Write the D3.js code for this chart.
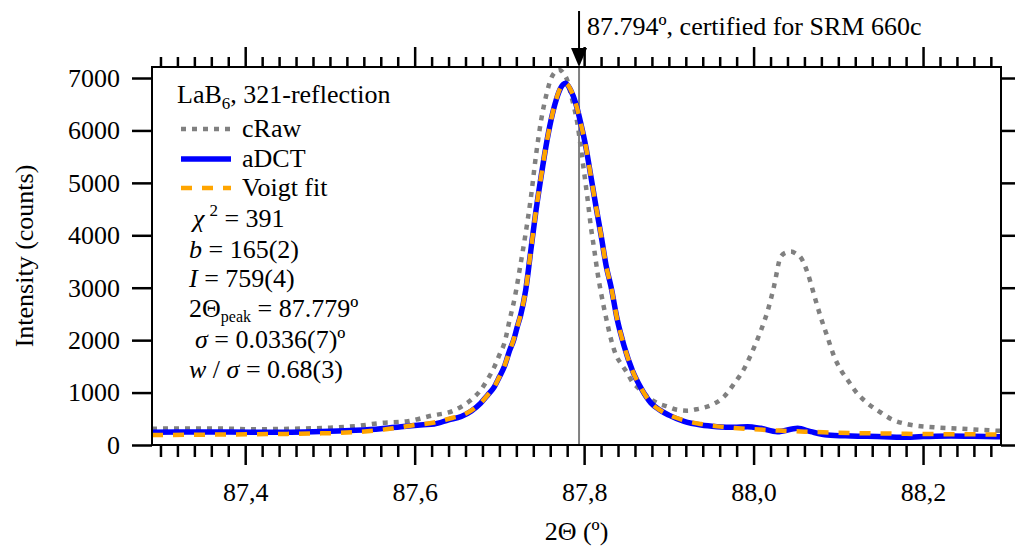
<!DOCTYPE html>
<html>
<head>
<meta charset="utf-8">
<script src="https://cdn.jsdelivr.net/npm/d3@7"></script>
<style>
  body { margin: 0; background: #fff; }
  svg { display: block; }
  svg text { font-family: 'Liberation Serif', 'DejaVu Serif', serif; }
</style>
</head>
<body>
<div id="chart"></div>
<script>
// ---------------------------------------------------------------------------
// DATA
// ---------------------------------------------------------------------------
const rawTheta = [87.29, 87.32, 87.35, 87.38, 87.41, 87.44, 87.47, 87.50, 87.53, 87.56, 87.59, 87.62,
  87.645, 87.655, 87.668, 87.678, 87.686, 87.694, 87.70, 87.706, 87.712, 87.718, 87.725, 87.731,
  87.737, 87.743, 87.749, 87.755, 87.761, 87.766, 87.771, 87.776, 87.780, 87.784, 87.788, 87.792,
  87.796, 87.800, 87.804, 87.808, 87.812, 87.816, 87.820, 87.826, 87.832, 87.838, 87.844, 87.851,
  87.857, 87.863, 87.875, 87.887, 87.897, 87.91, 87.922, 87.935, 87.95, 87.965, 87.977, 87.989,
  88.00, 88.009, 88.017, 88.024, 88.032, 88.038, 88.044, 88.050, 88.056, 88.064, 88.072, 88.079,
  88.087, 88.095, 88.103, 88.111, 88.122, 88.135, 88.15, 88.163, 88.185, 88.213, 88.244, 88.284, 88.292];
const rawCounts = [310, 315, 315, 312, 300, 305, 315, 330, 360, 420, 450, 560,
  650, 730, 880, 1050, 1250, 1490, 1720, 1950, 2380, 2800, 3450, 4040,
  4700, 5500, 6170, 6650, 6990, 7120, 7155, 7080, 6960, 6710, 6450, 6140,
  5680, 5200, 4700, 4160, 3720, 3270, 2900, 2420, 2000, 1700, 1540, 1370,
  1200, 1100, 920, 795, 740, 670, 654, 690, 760, 920, 1170, 1460,
  1840, 2200, 2580, 3020, 3590, 3670, 3690, 3650, 3570, 3270, 2830, 2450,
  2070, 1690, 1430, 1240, 990, 790, 620, 490, 385, 337, 311, 275, 270];

const dctTheta = [87.29, 87.32, 87.35, 87.38, 87.41, 87.44, 87.47, 87.50, 87.53, 87.56, 87.584, 87.61,
  87.623, 87.64, 87.655, 87.667, 87.678, 87.686, 87.694, 87.700, 87.706, 87.712, 87.717, 87.721,
  87.725, 87.731, 87.737, 87.743, 87.749, 87.755, 87.761, 87.767, 87.772, 87.778, 87.784, 87.790,
  87.796, 87.802, 87.808, 87.814, 87.820, 87.826, 87.832, 87.839, 87.847, 87.857, 87.867, 87.879,
  87.89, 87.90, 87.918, 87.938, 87.957, 87.977, 87.993, 88.0085, 88.028, 88.052, 88.0675, 88.087,
  88.115, 88.154, 88.174, 88.20, 88.233, 88.26, 88.292];
const dctCounts = [245, 248, 250, 248, 245, 245, 250, 262, 280, 310, 350, 385,
  400, 480, 545, 650, 800, 950, 1110, 1300, 1500, 1800, 2010, 2250,
  2470, 2950, 3700, 4450, 5100, 5700, 6200, 6580, 6800, 6900, 6770, 6520,
  6140, 5690, 5120, 4550, 4000, 3420, 3000, 2400, 1900, 1420, 1090, 800,
  660, 570, 450, 381, 350, 337, 350, 318, 254, 318, 254, 191,
  172, 159, 146, 160, 172, 165, 159];

const fitTheta = [87.29, 87.33, 87.37, 87.41, 87.45, 87.49, 87.53, 87.566, 87.60, 87.623, 87.645, 87.655,
  87.667, 87.678, 87.686, 87.694, 87.700, 87.706, 87.712, 87.717, 87.721, 87.725, 87.731, 87.737,
  87.743, 87.749, 87.755, 87.761, 87.767, 87.772, 87.778, 87.784, 87.790, 87.796, 87.802, 87.808,
  87.814, 87.820, 87.826, 87.832, 87.839, 87.847, 87.857, 87.867, 87.879, 87.89, 87.90, 87.918,
  87.938, 87.957, 87.977, 88.0, 88.03, 88.06, 88.09, 88.12, 88.15, 88.2, 88.25, 88.292];
const fitCounts = [190, 195, 200, 205, 212, 222, 245, 300, 380, 430, 520, 560,
  660, 800, 950, 1110, 1300, 1510, 1790, 2020, 2250, 2480, 2950, 3700,
  4450, 5100, 5700, 6200, 6590, 6810, 6900, 6780, 6520, 6140, 5690, 5120,
  4550, 4000, 3420, 3000, 2400, 1900, 1420, 1090, 800, 660, 575, 470,
  400, 355, 325, 300, 275, 255, 240, 228, 220, 210, 205, 200];

const xMajorTicks = [87.4, 87.6, 87.8, 88.0, 88.2];
const yTicks = [0, 1000, 2000, 3000, 4000, 5000, 6000, 7000];
const certifiedPeak = 87.794;

const legendTitle = ['LaB', '6', ', 321-reflection'];
const seriesNames = ['cRaw', 'aDCT', 'Voigt fit'];

// ---------------------------------------------------------------------------
// LAYOUT
// ---------------------------------------------------------------------------
const svgWidth = 1015, svgHeight = 547;
const plotLeft = 152, plotRight = 1001, plotTop = 67, plotBottom = 445;
const fontSize = 26;
const serif = "'Liberation Serif', 'DejaVu Serif', serif";

const svg = d3.select('#chart').append('svg')
  .attr('width', svgWidth)
  .attr('height', svgHeight)
  .style('font-family', serif);

const xScale = d3.scaleLinear().domain([87.29, 88.292]).range([plotLeft, plotRight]);
const yScale = d3.scaleLinear().domain([0, 7210]).range([plotBottom, plotTop]);

const minorTicks = d3.range(87.30, 88.29, 0.02)
  .map(d => +d.toFixed(2))
  .filter(d => !xMajorTicks.some(m => Math.abs(m - d) < 1e-6));

// ---------------------------------------------------------------------------
// AXES
// ---------------------------------------------------------------------------
function styleAxis(g) {
  g.attr('font-family', null).attr('font-size', fontSize);
  g.select('.domain').remove();
  g.selectAll('.tick line').attr('stroke', '#000').attr('stroke-width', 2.5);
  g.selectAll('.tick text').attr('fill', '#000').style('font-family', serif);
}

svg.append('g')
  .attr('transform', `translate(0,${plotBottom})`)
  .call(d3.axisBottom(xScale).tickValues(xMajorTicks).tickSize(20).tickPadding(18)
    .tickFormat(d => d3.format('.1f')(d).replace('.', ',')))
  .call(styleAxis);
svg.append('g')
  .attr('transform', `translate(0,${plotBottom})`)
  .call(d3.axisBottom(xScale).tickValues(minorTicks).tickSize(12).tickFormat(''))
  .call(styleAxis);
svg.append('g')
  .attr('transform', `translate(0,${plotTop})`)
  .call(d3.axisTop(xScale).tickValues(xMajorTicks).tickSize(20).tickFormat(''))
  .call(styleAxis);
svg.append('g')
  .attr('transform', `translate(0,${plotTop})`)
  .call(d3.axisTop(xScale).tickValues(minorTicks).tickSize(10).tickFormat(''))
  .call(styleAxis);

svg.append('g')
  .attr('transform', `translate(${plotLeft},0)`)
  .call(d3.axisLeft(yScale).tickValues(yTicks).tickSize(20).tickPadding(12)
    .tickFormat(d3.format('d')))
  .call(styleAxis);
svg.append('g')
  .attr('transform', `translate(${plotRight},0)`)
  .call(d3.axisRight(yScale).tickValues(yTicks).tickSize(14).tickFormat(''))
  .call(styleAxis);

// axis titles
svg.append('text')
  .attr('transform', `translate(33,${(plotTop + plotBottom) / 2}) rotate(-90)`)
  .attr('text-anchor', 'middle')
  .attr('font-size', fontSize)
  .text('Intensity (counts)');

svg.append('text')
  .attr('x', (plotLeft + plotRight) / 2)
  .attr('y', 540)
  .attr('text-anchor', 'middle')
  .attr('font-size', fontSize)
  .text('2Θ (º)');

// ---------------------------------------------------------------------------
// DATA LINES
// ---------------------------------------------------------------------------
svg.append('clipPath').attr('id', 'plot-clip')
  .append('rect')
  .attr('x', plotLeft).attr('y', plotTop)
  .attr('width', plotRight - plotLeft).attr('height', plotBottom - plotTop);

const plot = svg.append('g').attr('clip-path', 'url(#plot-clip)');

// certified peak position
plot.append('line')
  .attr('x1', xScale(certifiedPeak)).attr('x2', xScale(certifiedPeak))
  .attr('y1', plotTop).attr('y2', plotBottom)
  .attr('stroke', '#808080')
  .attr('stroke-width', 2);

const line = d3.line()
  .x(d => xScale(d[0]))
  .y(d => yScale(d[1]))
  .curve(d3.curveMonotoneX);

const series = [
  { theta: rawTheta, counts: rawCounts, color: '#808080', width: 4.5, dash: '5,6' },
  { theta: dctTheta, counts: dctCounts, color: '#0000ff', width: 5.5, dash: null },
  { theta: fitTheta, counts: fitCounts, color: '#ffa500', width: 4.5, dash: '11,10' },
];

series.forEach(s => {
  plot.append('path')
    .datum(d3.zip(s.theta, s.counts))
    .attr('d', line)
    .attr('fill', 'none')
    .attr('stroke', s.color)
    .attr('stroke-width', s.width)
    .attr('stroke-dasharray', s.dash);
});

// frame
svg.append('rect')
  .attr('x', plotLeft).attr('y', plotTop)
  .attr('width', plotRight - plotLeft).attr('height', plotBottom - plotTop)
  .attr('fill', 'none')
  .attr('stroke', '#000')
  .attr('stroke-width', 2);

// ---------------------------------------------------------------------------
// ANNOTATION ARROW
// ---------------------------------------------------------------------------
const ax = xScale(certifiedPeak);
svg.append('line')
  .attr('x1', ax).attr('x2', ax)
  .attr('y1', 11).attr('y2', 52)
  .attr('stroke', '#000').attr('stroke-width', 2);
svg.append('path')
  .attr('d', `M${ax - 8},48 L${ax + 8},48 L${ax},67 Z`)
  .attr('fill', '#000');
svg.append('text')
  .attr('x', ax + 8).attr('y', 35)
  .attr('font-size', fontSize)
  .text(`${certifiedPeak}º, certified for SRM 660c`);

// ---------------------------------------------------------------------------
// LEGEND
// ---------------------------------------------------------------------------
const legend = svg.append('g').attr('font-size', fontSize);

const title = legend.append('text').attr('x', 177).attr('y', 103);
title.append('tspan').text(legendTitle[0]);
title.append('tspan').attr('font-size', 17).attr('dy', 6).text(legendTitle[1]);
title.append('tspan').attr('dy', -6).text(legendTitle[2]);

const legendRows = [129, 159, 188];
series.forEach((s, i) => {
  legend.append('line')
    .attr('x1', 181).attr('x2', 231)
    .attr('y1', legendRows[i]).attr('y2', legendRows[i])
    .attr('stroke', s.color)
    .attr('stroke-width', s.width)
    .attr('stroke-dasharray', s.dash);
  legend.append('text')
    .attr('x', 242).attr('y', legendRows[i] + 8)
    .text(seriesNames[i]);
});

// fit statistics
const chi = legend.append('text').attr('x', 193).attr('y', 227);
chi.append('tspan').attr('font-style', 'italic').text('χ');
chi.append('tspan').attr('font-size', 17).attr('dx', 5).attr('dy', -11).text('2');
chi.append('tspan').attr('dy', 11).text(' = 391');

const bLine = legend.append('text').attr('x', 189).attr('y', 258);
bLine.append('tspan').attr('font-style', 'italic').text('b');
bLine.append('tspan').text(' = 165(2)');

const iLine = legend.append('text').attr('x', 189).attr('y', 287);
iLine.append('tspan').attr('font-style', 'italic').text('I');
iLine.append('tspan').text(' = 759(4)');

const pLine = legend.append('text').attr('x', 189).attr('y', 317);
pLine.append('tspan').text('2Θ');
pLine.append('tspan').attr('font-size', 16).attr('dy', 5).text('peak');
pLine.append('tspan').attr('dy', -5).text(' = 87.779º');

const sLine = legend.append('text').attr('x', 195).attr('y', 348);
sLine.append('tspan').attr('font-style', 'italic').text('σ');
sLine.append('tspan').text('  = 0.0336(7)º');

const wLine = legend.append('text').attr('x', 189).attr('y', 378);
wLine.append('tspan').attr('font-style', 'italic').text('w');
wLine.append('tspan').text(' / ');
wLine.append('tspan').attr('font-style', 'italic').text('σ');
wLine.append('tspan').text('  = 0.68(3)');
</script>
</body>
</html>
